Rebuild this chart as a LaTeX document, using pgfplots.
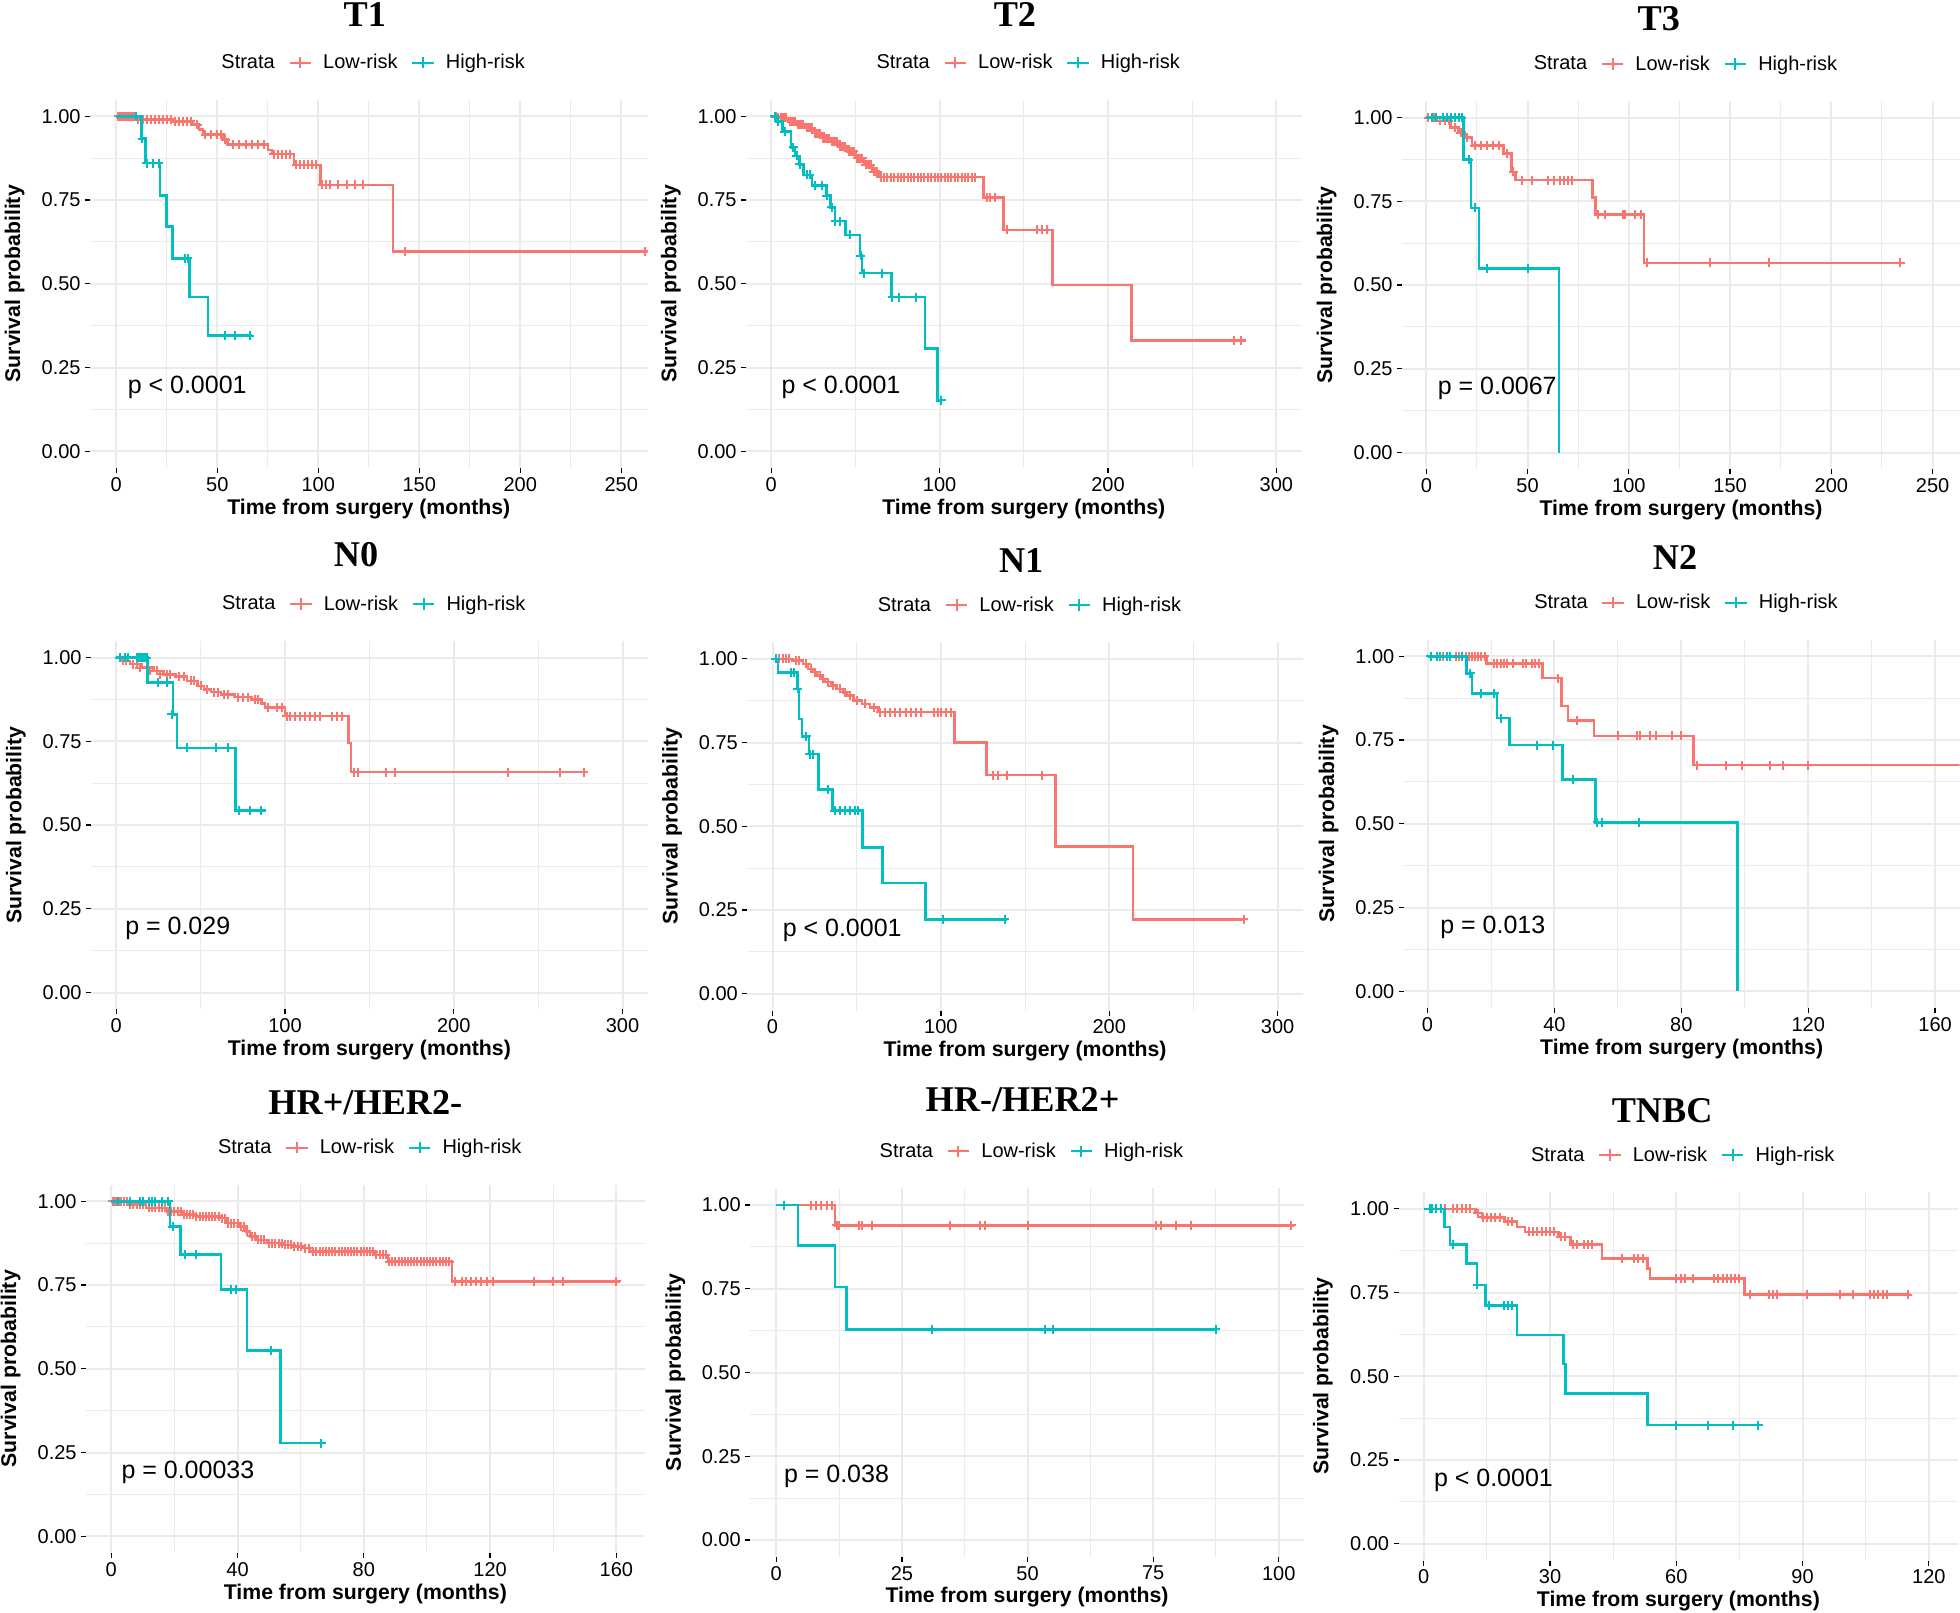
\documentclass[border=0pt]{standalone}
\usepackage{fontspec}
\setmainfont{Liberation Sans}
\newfontfamily\titlefont{Liberation Serif}
\usepackage{pgfplots}
\pgfplotsset{compat=1.18}

\definecolor{lowc}{HTML}{F8766D}
\definecolor{highc}{HTML}{00BFC4}
\definecolor{gridc}{HTML}{EBEBEB}

\pgfplotsset{
  km/.style={
    scale only axis, height=294.8pt,
    ymin=-0.05, ymax=1.05,
    ytick={0,0.25,0.5,0.75,1},
    yticklabel style={/pgf/number format/.cd, fixed, fixed zerofill, precision=2},
    minor tick num=1,
    grid=both,
    major grid style={color=gridc, line width=1.6pt},
    minor grid style={color=gridc, line width=0.8pt},
    axis line style={draw=none},
    tick align=outside, tick pos=left,
    major tick length=4pt, minor tick length=0pt,
    tick style={color=black, line width=1pt},
    tick label style={font=\fontsize{16}{19}\selectfont},
    /pgf/number format/assume math mode=true,
    xlabel={Time from surgery (months)},
    ylabel={Survival probability},
    label style={font=\bfseries\fontsize{17}{20}\selectfont},
    xlabel style={at={(axis description cs:0.5,-0.1106)}, anchor=center},
    ylabel style={at={(axis description cs:-0.135,0.5)}, anchor=center},
    title style={font=\titlefont\bfseries\fontsize{29}{33}\selectfont, anchor=center},
    legend columns=-1,
    legend style={at={(0.5,1.1004)}, anchor=center, draw=none, fill=none,
      font=\fontsize{16}{19}\selectfont,
      /tikz/every even column/.append style={column sep=9pt},
      /tikz/every odd column/.append style={column sep=7pt}},
    clip marker paths=true,
  },
  lowline/.style={lowc, const plot, line width=2pt, forget plot},
  highline/.style={highc, const plot, line width=2pt, forget plot},
  lowcens/.style={lowc, only marks, mark=+, mark size=3.6pt, line width=1.6pt, forget plot},
  highcens/.style={highc, only marks, mark=+, mark size=3.6pt, line width=1.6pt, forget plot},
}

\newcommand{\kmlegend}{%
  \addlegendimage{empty legend}\addlegendentry{Strata}
  \addlegendimage{lowc, line width=1.6pt, mark=+, mark size=4.6pt}\addlegendentry{Low-risk}
  \addlegendimage{highc, line width=1.6pt, mark=+, mark size=4.6pt}\addlegendentry{High-risk}}
\newcommand{\pval}[2]{\node[anchor=west, inner sep=0pt, xshift=#1, font=\fontsize{20}{24}\selectfont] at (axis cs:0,0.19) {#2};}

\begin{document}
\begin{tikzpicture}
\useasboundingbox (0,0) rectangle (1568pt,-1290pt);
\clip (0,0) rectangle (1568pt,-1290pt);

% ---------------- T1
\begin{axis}[km, at={(72pt,-374.4pt)}, anchor=south west, width=446pt,
  xmin=-13, xmax=263, xtick={0,50,100,150,200,250},
  title={T1}, title style={at={(axis description cs:0.493,1.209)}}]
\kmlegend
\addplot[lowline] coordinates {(0,1) (10,0.99) (28,0.985) (38,0.975) (41,0.96) (43,0.945) (53,0.93) (55,0.915) (75,0.90) (77,0.887) (88,0.855) (101,0.795) (137,0.597) (263,0.597)};
\addplot[lowcens] coordinates {(1,1)(2,1)(3,1)(4,1)(5,1)(6,1)(7,1)(8,1)(9,1)(11,0.99)(13,0.99)(15,0.99)(17,0.99)(19,0.99)(21,0.99)(23,0.99)(25,0.99)(27,0.99)(29,0.985)(31,0.985)(33,0.985)(35,0.985)(37,0.985)(40,0.975)(44,0.945)(47,0.945)(50,0.945)(52,0.945)(54,0.93)(58,0.915)(61,0.915)(64,0.915)(67,0.915)(70,0.915)(73,0.915)(78,0.887)(80,0.887)(82,0.887)(84,0.887)(86,0.887)(89,0.855)(91,0.855)(93,0.855)(95,0.855)(97,0.855)(99,0.855)(102,0.795)(104,0.795)(106,0.795)(110,0.795)(114,0.795)(118,0.795)(122,0.795)(143,0.597)(262,0.597)};
\addplot[highline] coordinates {(0,1)(12.4,0.933)(14.5,0.86)(21.7,0.764)(24.8,0.671)(27.9,0.576)(36.2,0.46)(45.5,0.345)(67,0.345)};
\addplot[highcens] coordinates {(10,1)(12.8,0.933)(15,0.86)(18,0.86)(21,0.86)(34,0.576)(35.5,0.576)(54,0.345)(59,0.345)(66,0.345)};
\pval{9pt}{p < 0.0001}
\end{axis}

% ---------------- T2
\begin{axis}[km, at={(596.8pt,-374.4pt)}, anchor=south west, width=444.5pt,
  xmin=-15, xmax=315, xtick={0,100,200,300},
  title={T2}, title style={at={(axis description cs:0.484,1.209)}}]
\kmlegend
\addplot[lowline] coordinates {(0,1)(5,0.995)(10,0.985)(15,0.975)(20,0.965)(25,0.95)(30,0.935)(35,0.925)(40,0.91)(45,0.895)(50,0.875)(55,0.855)(60,0.835)(64,0.818)(126,0.757)(138,0.661)(167,0.496)(214,0.33)(282,0.33)};
\addplot[lowcens] coordinates {(2,1)(3,1)(4,0.995)(6,0.995)(7,0.995)(8,0.995)(9,0.995)(11,0.985)(12,0.985)(13,0.985)(14,0.985)(16,0.975)(17,0.975)(18,0.975)(19,0.975)(21,0.965)(22,0.965)(23,0.965)(24,0.965)(26,0.95)(27,0.95)(28,0.95)(29,0.95)(31,0.935)(32,0.935)(33,0.935)(34,0.935)(36,0.925)(37,0.925)(38,0.925)(39,0.925)(41,0.91)(42,0.91)(43,0.91)(44,0.91)(46,0.895)(47,0.895)(48,0.895)(49,0.895)(51,0.875)(52,0.875)(53,0.875)(54,0.875)(56,0.855)(57,0.855)(58,0.855)(59,0.855)(61,0.835)(62,0.835)(63,0.835)(65,0.818)(67,0.818)(69,0.818)(71,0.818)(73,0.818)(75,0.818)(77,0.818)(79,0.818)(81,0.818)(83,0.818)(85,0.818)(87,0.818)(89,0.818)(91,0.818)(93,0.818)(95,0.818)(97,0.818)(99,0.818)(101,0.818)(103,0.818)(105,0.818)(107,0.818)(109,0.818)(111,0.818)(113,0.818)(115,0.818)(117,0.818)(119,0.818)(121,0.818)(128,0.757)(130,0.757)(133,0.757)(140,0.661)(158,0.661)(161,0.661)(164,0.661)(275,0.33)(279,0.33)};
\addplot[highline] coordinates {(0,1)(3,0.985)(6.7,0.954)(11.7,0.907)(14.2,0.882)(16.7,0.856)(19.1,0.825)(24.1,0.794)(32.8,0.763)(35.3,0.728)(37.8,0.687)(44,0.646)(52.7,0.584)(53.9,0.532)(71.3,0.46)(91.2,0.306)(98.7,0.152)(101,0.152)};
\addplot[highcens] coordinates {(2,1)(4,0.985)(8,0.954)(13,0.907)(15,0.882)(17,0.856)(21,0.825)(23,0.825)(26,0.794)(30,0.794)(33,0.763)(36,0.728)(38,0.687)(41,0.687)(47,0.646)(53,0.584)(55,0.532)(66,0.532)(72,0.46)(76,0.46)(86,0.46)(101,0.152)};
\pval{8pt}{p < 0.0001}
\end{axis}

% ---------------- T3
\begin{axis}[km, at={(1121.6pt,-375.4pt)}, anchor=south west, width=446.5pt,
  xmin=-12, xmax=263.6, xtick={0,50,100,150,200,250},
  title={T3}, title style={at={(axis description cs:0.46,1.202)}}]
\kmlegend
\addplot[lowline] coordinates {(0,1)(5,0.99)(12,0.97)(16,0.955)(19,0.94)(22.5,0.916)(38,0.893)(42,0.838)(44,0.813)(82,0.761)(83.6,0.71)(107.6,0.566)(234,0.566)};
\addplot[lowcens] coordinates {(1,1)(4,1)(7,0.99)(9,0.99)(11,0.99)(14,0.97)(17,0.955)(20,0.94)(24,0.916)(27,0.916)(30,0.916)(33,0.916)(36,0.916)(40,0.893)(43,0.838)(47,0.813)(52,0.813)(60,0.813)(63,0.813)(66,0.813)(68,0.813)(70,0.813)(72,0.813)(85,0.71)(88,0.71)(97,0.71)(98,0.71)(103,0.71)(106,0.71)(109,0.566)(140,0.566)(169,0.566)(234,0.566)};
\addplot[highline] coordinates {(0,1)(18.4,0.874)(22,0.73)(26,0.55)(65.6,0)};
\addplot[highcens] coordinates {(3,1)(5,1)(8,1)(10,1)(12,1)(14,1)(16,1)(17.5,1)(21,0.874)(24,0.73)(30,0.55)(50,0.55)};
\pval{9pt}{p = 0.0067}
\end{axis}

% ---------------- N0
\begin{axis}[km, at={(72.75pt,-807.4pt)}, anchor=south west, width=445.5pt,
  xmin=-15, xmax=315, xtick={0,100,200,300},
  title={N0}, title style={at={(axis description cs:0.476,1.213)}}]
\kmlegend
\addplot[lowline] coordinates {(0,1)(3,0.99)(8,0.98)(15,0.97)(22,0.96)(28,0.95)(35,0.943)(42,0.93)(48,0.915)(52,0.905)(56,0.897)(62,0.89)(70,0.882)(80,0.874)(86,0.862)(88,0.851)(100,0.825)(137.6,0.745)(139,0.658)(278,0.658)};
\addplot[lowcens] coordinates {(2,1)(4,0.99)(6,0.99)(10,0.98)(12,0.98)(14,0.97)(18,0.97)(20,0.96)(24,0.96)(26,0.95)(30,0.95)(32,0.95)(37,0.943)(40,0.943)(44,0.93)(46,0.93)(50,0.915)(54,0.905)(58,0.897)(60,0.897)(64,0.89)(66,0.89)(72,0.882)(75,0.882)(78,0.882)(82,0.874)(84,0.874)(90,0.851)(95,0.851)(98,0.851)(101,0.825)(103,0.825)(106,0.825)(109,0.825)(112,0.825)(115,0.825)(118,0.825)(121,0.825)(128,0.825)(131,0.825)(134,0.825)(141,0.658)(143,0.658)(160,0.658)(165,0.658)(232,0.658)(263,0.658)(277,0.658)};
\addplot[highline] coordinates {(0,1)(18.6,0.926)(33.5,0.83)(36,0.73)(70.7,0.544)(89,0.544)};
\addplot[highcens] coordinates {(2,1)(5,1)(7,1)(12,1)(13,1)(14,1)(15,1)(16,1)(17,1)(18,1)(25,0.926)(30,0.926)(33,0.83)(42,0.73)(59,0.73)(66,0.73)(73,0.544)(79,0.544)(86,0.544)};
\pval{7pt}{p = 0.029}
\end{axis}

% ---------------- N1
\begin{axis}[km, at={(597.8pt,-808.4pt)}, anchor=south west, width=444.5pt,
  xmin=-15, xmax=315, xtick={0,100,200,300},
  title={N1}, title style={at={(axis description cs:0.493,1.200)}}]
\kmlegend
\addplot[lowline] coordinates {(0,1)(12,0.995)(18,0.985)(21,0.97)(24,0.96)(26,0.95)(29,0.94)(31,0.93)(35,0.92)(38,0.91)(42,0.9)(44,0.89)(48,0.875)(53,0.865)(58,0.855)(63,0.841)(108,0.75)(127,0.653)(168,0.439)(214,0.222)(280,0.222)};
\addplot[lowcens] coordinates {(2,1)(4,1)(6,1)(8,1)(10,1)(14,0.995)(16,0.995)(20,0.985)(23,0.97)(25,0.96)(28,0.95)(30,0.94)(33,0.93)(36,0.92)(40,0.91)(43,0.9)(46,0.89)(50,0.875)(55,0.865)(60,0.855)(64,0.841)(67,0.841)(70,0.841)(73,0.841)(76,0.841)(79,0.841)(82,0.841)(85,0.841)(88,0.841)(96,0.841)(98,0.841)(100,0.841)(103,0.841)(106,0.841)(131,0.653)(134,0.653)(139,0.653)(160,0.653)(280,0.222)};
\addplot[highline] coordinates {(0,1)(3.2,0.959)(14.9,0.91)(15.6,0.82)(17.4,0.768)(21.6,0.715)(27.3,0.61)(35.5,0.547)(53.3,0.437)(65.2,0.33)(91,0.222)(139,0.222)};
\addplot[highcens] coordinates {(2,1)(11,0.959)(13,0.959)(15,0.91)(20,0.768)(22,0.715)(24,0.715)(33,0.61)(37,0.547)(40,0.547)(43,0.547)(46,0.547)(49,0.547)(51,0.547)(101,0.222)(138,0.222)};
\pval{8pt}{p < 0.0001}
\end{axis}

% ---------------- N2
\begin{axis}[km, at={(1123pt,-806.4pt)}, anchor=south west, width=444.6pt,
  xmin=-7.5, xmax=167.7, xtick={0,40,80,120,160},
  title={N2}, title style={at={(axis description cs:0.488,1.203)}}]
\kmlegend
\addplot[lowline] coordinates {(0,1)(18.6,0.979)(36.3,0.935)(42.2,0.851)(44.2,0.808)(52.5,0.762)(83.9,0.675)(168,0.675)};
\addplot[lowcens] coordinates {(1,1)(3,1)(5,1)(7,1)(9,1)(10,1)(12,1)(13,1)(14,1)(15,1)(16,1)(17,1)(18,1)(21,0.979)(22,0.979)(23,0.979)(24,0.979)(25,0.979)(27,0.979)(30,0.979)(31,0.979)(33,0.979)(34,0.979)(35,0.979)(41,0.935)(47,0.808)(60,0.762)(66,0.762)(67,0.762)(70,0.762)(72,0.762)(77,0.762)(80,0.762)(85,0.675)(94,0.675)(99,0.675)(108,0.675)(112,0.675)(120,0.675)};
\addplot[highline] coordinates {(0,1)(12.3,0.949)(14,0.889)(21.9,0.815)(25.8,0.735)(42.6,0.632)(53,0.504)(97.7,0)};
\addplot[highcens] coordinates {(1,1)(3,1)(4,1)(6,1)(7,1)(11,1)(13.5,0.949)(17,0.889)(21,0.889)(23,0.815)(34.5,0.735)(39.5,0.735)(46,0.632)(53.5,0.504)(55,0.504)(66.5,0.504)};
\pval{10pt}{p = 0.013}
\end{axis}

% ---------------- HR+/HER2-
\begin{axis}[km, at={(68.8pt,-1242.4pt)}, anchor=south west, width=447pt,
  xmin=-8, xmax=169, xtick={0,40,80,120,160},
  title={HR+/HER2-}, title style={at={(axis description cs:0.50,1.203)}}]
\kmlegend
\addplot[lowline] coordinates {(0,1)(5.7,0.99)(11,0.98)(17.6,0.97)(22.9,0.96)(26.8,0.955)(34.7,0.95)(36.7,0.935)(40.7,0.925)(42.7,0.91)(44,0.895)(46,0.885)(49.3,0.875)(54.6,0.87)(57.2,0.865)(61.2,0.86)(63,0.85)(83.6,0.84)(87.6,0.82)(108,0.761)(161,0.761)};
\addplot[lowcens] coordinates {(0.5,1)(1,1)(1.5,1)(2,1)(2.5,1)(3,1)(4,1)(5,1)(6,0.99)(7,0.99)(8,0.99)(9,0.99)(10,0.99)(12,0.98)(13,0.98)(14,0.98)(15,0.98)(16,0.98)(17,0.98)(18,0.97)(19,0.97)(20,0.97)(21,0.97)(22,0.97)(23,0.96)(24,0.96)(25,0.96)(26,0.96)(27,0.955)(28,0.955)(29,0.955)(30,0.955)(31,0.955)(32,0.955)(33,0.955)(34,0.955)(35,0.95)(36,0.95)(37,0.935)(38,0.935)(39,0.935)(40,0.935)(41,0.925)(42,0.925)(43,0.91)(44.5,0.895)(45.5,0.895)(46.5,0.885)(47.5,0.885)(48.5,0.885)(50,0.875)(51,0.875)(52,0.875)(53,0.875)(54,0.875)(55,0.87)(56,0.87)(57,0.87)(58,0.865)(59,0.865)(60,0.865)(61.5,0.86)(62.5,0.86)(64,0.85)(65,0.85)(66,0.85)(67,0.85)(68,0.85)(69,0.85)(70,0.85)(71,0.85)(72,0.85)(73,0.85)(74,0.85)(75,0.85)(76,0.85)(77,0.85)(78,0.85)(79,0.85)(80,0.85)(81,0.85)(82,0.85)(83,0.85)(84,0.84)(85,0.84)(86,0.84)(87,0.84)(88,0.82)(89,0.82)(90,0.82)(91,0.82)(92,0.82)(93,0.82)(94,0.82)(95,0.82)(96,0.82)(97,0.82)(98,0.82)(99,0.82)(100,0.82)(101,0.82)(102,0.82)(103,0.82)(104,0.82)(105,0.82)(106,0.82)(107,0.82)(109,0.761)(111,0.761)(112.5,0.761)(114,0.761)(115.5,0.761)(117,0.761)(119,0.761)(121,0.761)(134,0.761)(140,0.761)(143,0.761)(160,0.761)};
\addplot[highline] coordinates {(0,1)(18.6,0.924)(21.9,0.841)(34.7,0.737)(43,0.554)(53.6,0.278)(67.5,0.278)};
\addplot[highcens] coordinates {(2,1)(6,1)(9,1)(10,1)(12,1)(13,1)(14,1)(16,1)(18,1)(19.5,0.924)(23.5,0.841)(27,0.841)(38,0.737)(39.5,0.737)(50.5,0.554)(66.5,0.278)};
\pval{8pt}{p = 0.00033}
\end{axis}

% ---------------- HR-/HER2+
\begin{axis}[km, at={(600.1pt,-1245.4pt)}, anchor=south west, width=443pt,
  xmin=-5.2, xmax=105, xtick={0,25,50,75,100},
  title={HR-/HER2+}, title style={at={(axis description cs:0.492,1.220)}}]
\kmlegend
\addplot[lowline] coordinates {(0,1)(11.7,0.939)(103,0.939)};
\addplot[lowcens] coordinates {(7,1)(8,1)(9,1)(10,1)(11,1)(12,0.939)(12.5,0.939)(16.5,0.939)(17,0.939)(19,0.939)(34.5,0.939)(40.5,0.939)(41.5,0.939)(50,0.939)(75.5,0.939)(76.5,0.939)(79.5,0.939)(82.5,0.939)(102.5,0.939)};
\addplot[highline] coordinates {(0,1)(4.3,0.879)(11.7,0.756)(14,0.629)(87.4,0.629)};
\addplot[highcens] coordinates {(1.5,1)(31,0.629)(53.5,0.629)(55,0.629)(87.5,0.629)};
\pval{6pt}{p = 0.038}
\end{axis}

% ---------------- TNBC
\begin{axis}[km, at={(1118.8pt,-1248.4pt)}, anchor=south west, width=447.8pt,
  xmin=-6, xmax=127, xtick={0,30,60,90,120},
  title={TNBC}, title style={at={(axis description cs:0.471,1.200)}}]
\kmlegend
\addplot[lowline] coordinates {(0,1)(12.3,0.987)(13.8,0.974)(19.2,0.962)(22.1,0.946)(24,0.931)(32,0.916)(34.9,0.893)(42.3,0.851)(53.1,0.822)(53.8,0.792)(76.2,0.744)(115.5,0.744)};
\addplot[lowcens] coordinates {(5,1)(7,1)(8,1)(9,1)(10,1)(11,1)(12.8,0.987)(14,0.974)(15,0.974)(16,0.974)(17,0.974)(18,0.974)(20,0.962)(21,0.962)(25,0.931)(26,0.931)(27,0.931)(28,0.931)(29,0.931)(30,0.931)(31,0.931)(32.5,0.916)(33.5,0.916)(35.5,0.893)(36.5,0.893)(38,0.893)(39,0.893)(40,0.893)(47,0.851)(50,0.851)(51,0.851)(52,0.851)(60,0.792)(61,0.792)(62,0.792)(64,0.792)(69,0.792)(70,0.792)(71,0.792)(72,0.792)(73,0.792)(74,0.792)(75,0.792)(77.5,0.744)(82,0.744)(83,0.744)(84,0.744)(91,0.744)(99,0.744)(102,0.744)(106,0.744)(107,0.744)(108,0.744)(109,0.744)(110,0.744)(115,0.744)};
\addplot[highline] coordinates {(0,1)(4.9,0.946)(6.2,0.893)(10.1,0.837)(12.6,0.773)(14.7,0.711)(22.1,0.623)(33.2,0.537)(33.7,0.448)(53.1,0.354)(79.6,0.354)};
\addplot[highcens] coordinates {(1.5,1)(2,1)(3,1)(4,1)(7,0.893)(12.7,0.773)(15.5,0.711)(19,0.711)(20,0.711)(21,0.711)(60,0.354)(67.5,0.354)(73.5,0.354)(79.5,0.354)};
\pval{8pt}{p < 0.0001}
\end{axis}
\end{tikzpicture}
\end{document}
